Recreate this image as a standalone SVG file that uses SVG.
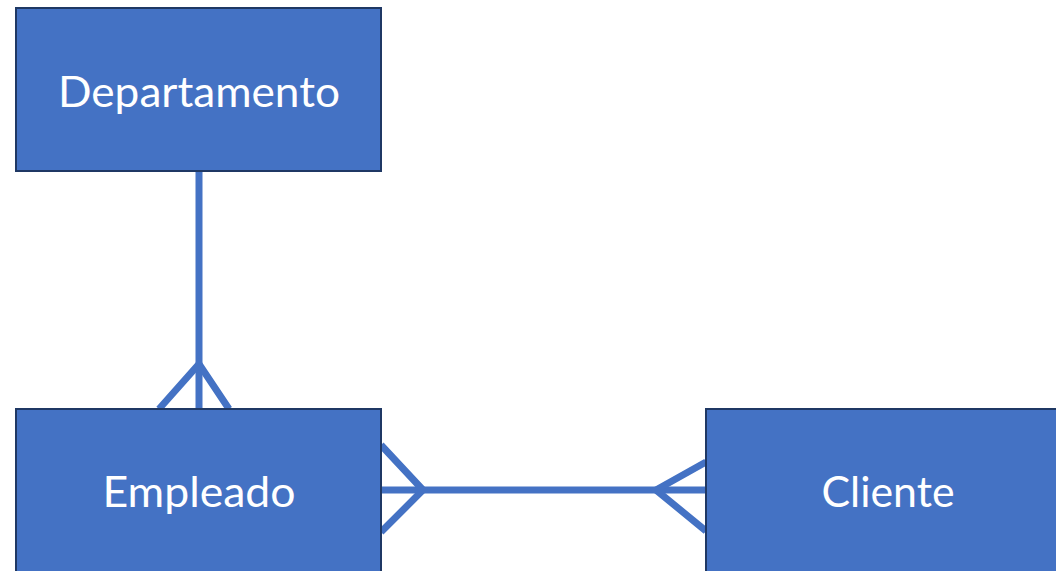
<svg xmlns="http://www.w3.org/2000/svg" width="1056" height="571" viewBox="0 0 1056 571">
<style>
.box{fill:#4472C4;stroke:#1F3864;stroke-width:2}
.lbl{fill:#FFFFFF;font-family:Lato,"Open Sans","Liberation Sans",sans-serif;font-size:42px;text-anchor:middle}
.con{stroke:#4472C4;stroke-width:7;fill:none;stroke-linecap:butt;stroke-linejoin:miter}
</style>
<rect width="1056" height="571" fill="#FFFFFF"/>
<g id="connectors">
<path class="con" d="M199,171 V409"/>
<path class="con" d="M159,409 L199,364 L229,409"/>
<path class="con" d="M381,490 H706"/>
<path class="con" d="M381,445 L423,490 L381,532"/>
<path class="con" d="M706,462 L656,490 L706,531"/>
</g>
<g id="departamento">
<rect class="box" x="16" y="8" width="365" height="163"/>
<text class="lbl" x="199" y="107" textLength="282" lengthAdjust="spacingAndGlyphs">Departamento</text>
</g>
<g id="empleado">
<rect class="box" x="16" y="409" width="365" height="170"/>
<text class="lbl" x="199" y="507" textLength="193" lengthAdjust="spacingAndGlyphs">Empleado</text>
</g>
<g id="cliente">
<rect class="box" x="706" y="409" width="360" height="170"/>
<text class="lbl" x="888" y="507" textLength="133" lengthAdjust="spacingAndGlyphs">Cliente</text>
</g>
</svg>
